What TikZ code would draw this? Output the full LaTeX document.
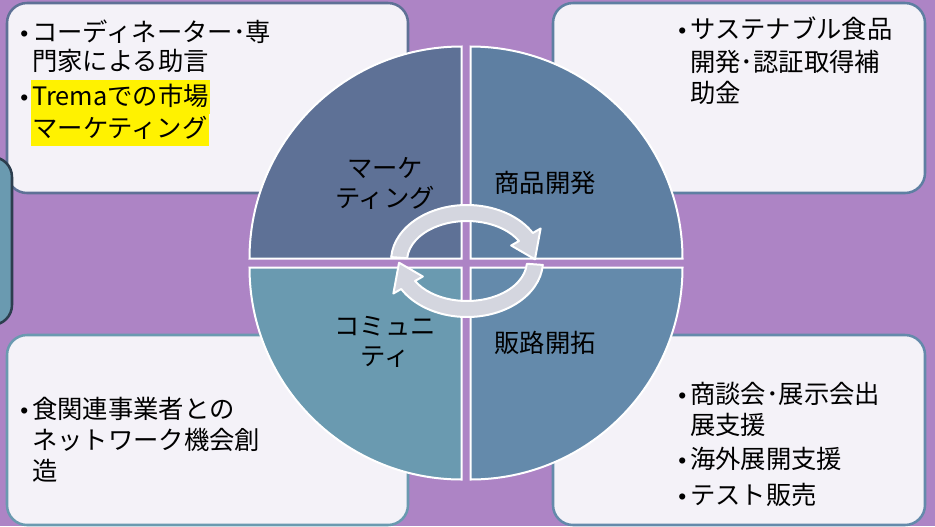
\documentclass[tikz,border=0pt]{standalone}
\usepackage{fontspec}
\setmainfont{Noto Sans CJK JP}
\newfontfamily\latinbullet{Liberation Sans}
\definecolor{bgpurple}{HTML}{AD84C5}
\definecolor{boxfill}{HTML}{F4F2F8}
\definecolor{qTL}{HTML}{5E7196}
\definecolor{qTR}{HTML}{5E7FA2}
\definecolor{qBR}{HTML}{648AAB}
\definecolor{qBL}{HTML}{6A9AB0}
\definecolor{arrowgray}{HTML}{D4D6DF}
\definecolor{darkedge}{HTML}{2C3E4E}
\begin{document}
\begin{tikzpicture}[x=0.75pt,y=-0.75pt,
  box/.style={rounded corners=15pt, line width=1.9pt, fill=boxfill},
  quad/.style={draw=white, line width=1.5pt},
  cyc/.style={fill=arrowgray, draw=white, line width=1.5pt, line join=round},
  txt/.style={anchor=west, inner sep=0pt, font=\fontsize{19}{23}\selectfont, text height=16pt, text depth=3pt},
  bul/.style={anchor=west, inner sep=0pt, font=\latinbullet\fontsize{17}{20}\selectfont, text height=16pt, text depth=3pt},
  hl/.style={fill=yellow, inner xsep=0.8pt, inner ysep=3pt},
  lbl/.style={align=center, inner sep=0pt, font=\fontsize{19}{22.5}\selectfont}]
\useasboundingbox (0,0) rectangle (935,526);
\fill[bgpurple] (0,0) rectangle (935,526);

% corner boxes
\draw[box, draw=qTL] (7,3) rectangle (408,193);
\draw[box, draw=qTR] (553,3) rectangle (925,193);
\draw[box, draw=qBL] (7,335) rectangle (408,525);
\draw[box, draw=qBR] (553,335) rectangle (925,525);

% partial box at left edge
\draw[rounded corners=15pt, line width=1.9pt, fill=qBL, draw=darkedge] (-40,157) rectangle (12,325);

% quadrants
\draw[quad, fill=qTL] (461.5,258.5) -- ++(180:212) arc[start angle=180, end angle=270, radius=212] -- cycle;
\draw[quad, fill=qTR] (470.5,258.5) -- ++(270:212) arc[start angle=270, end angle=360, radius=212] -- cycle;
\draw[quad, fill=qBR] (470.5,267.5) -- ++(0:212) arc[start angle=0, end angle=90, radius=212] -- cycle;
\draw[quad, fill=qBL] (461.5,267.5) -- ++(90:212) arc[start angle=90, end angle=180, radius=212] -- cycle;

% circular arrows
\coordinate (C) at (467,261);
\draw[cyc] ([shift={(184:76 and 56)}]C)
  arc[start angle=184, end angle=330, x radius=76, y radius=56]
  -- ([shift={(330:85 and 65)}]C)
  -- ([shift={(358:68 and 48)}]C)
  -- ([shift={(330:51 and 31)}]C)
  -- ([shift={(330:60 and 40)}]C)
  arc[start angle=330, end angle=184, x radius=60, y radius=40]
  -- cycle;
\draw[cyc] ([shift={(4:76 and 56)}]C)
  arc[start angle=4, end angle=150, x radius=76, y radius=56]
  -- ([shift={(150:85 and 65)}]C)
  -- ([shift={(178:68 and 48)}]C)
  -- ([shift={(150:51 and 31)}]C)
  -- ([shift={(150:60 and 40)}]C)
  arc[start angle=150, end angle=4, x radius=60, y radius=40]
  -- cycle;

% quadrant labels
\node[lbl] (lTL) at (385,183) {マーケ\\ティング};
\node[lbl] (lTR) at (545,183) {商品開発};
\node[lbl] (lBL) at (385,342) {コミュニ\\ティ};
\node[lbl] (lBR) at (545,343) {販路開拓};

% top-left box text
\node[bul] (b1) at (20,33) {•};
\node[txt] (t1a) at (32,33) {コーディネーター･専};
\node[txt] (t1b) at (32,62) {門家による助言};
\node[bul] (b2) at (20,97) {•};
\node[txt, hl] (t2a) at (31,97) {Tremaでの市場};
\node[txt, hl] (t2b) at (31,129) {マーケティング};

% top-right box text
\node[bul] (b3) at (678,30) {•};
\node[txt] (t3a) at (690,30) {サステナブル食品};
\node[txt] (t3b) at (690,63) {開発･認証取得補};
\node[txt] (t3c) at (690,94) {助金};

% bottom-left box text
\node[bul] (b4) at (20,410) {•};
\node[txt] (t4a) at (32,410) {食関連事業者との};
\node[txt] (t4b) at (32,441) {ネットワーク機会創};
\node[txt] (t4c) at (32,472) {造};

% bottom-right box text
\node[bul] (b5) at (678,395) {•};
\node[txt] (t5a) at (690,395) {商談会･展示会出};
\node[txt] (t5b) at (690,426) {展支援};
\node[bul] (b6) at (678,460) {•};
\node[txt] (t6a) at (690,460) {海外展開支援};
\node[bul] (b7) at (678,496) {•};
\node[txt] (t7a) at (690,496) {テスト販売};
\end{tikzpicture}
\end{document}
